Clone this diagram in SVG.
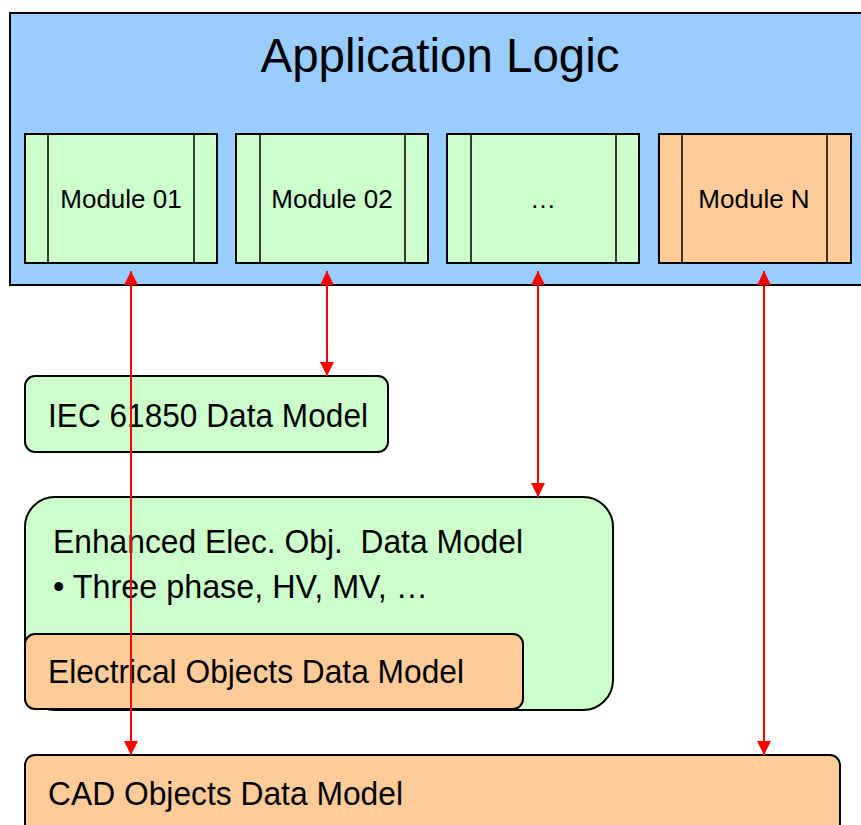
<svg xmlns="http://www.w3.org/2000/svg" width="861" height="825" viewBox="0 0 861 825">
<defs>
<style>
.t{font-family:"Liberation Sans",Arial,sans-serif;fill:#000}
.box{stroke:#000;stroke-width:2}
.mod{stroke:#000;stroke-width:2}
.div{stroke:#000;stroke-width:1.5}
.green{fill:#CCFFCC}
.orange{fill:#FFCC99}
.blue{fill:#99CCFF}
.conn{stroke:#FF0000;stroke-width:2;fill:none;marker-start:url(#ah);marker-end:url(#ah)}
</style>
<marker id="ah" markerUnits="userSpaceOnUse" markerWidth="14" markerHeight="14" refX="14" refY="7" orient="auto-start-reverse" viewBox="0 0 14 14">
<path d="M0,0 L14,7 L0,14 z" fill="#FF0000"/>
</marker>
</defs>
<rect width="861" height="825" fill="#fff"/>
<g id="app-logic">
<rect class="box blue" x="10" y="13" width="870" height="272"/>
<text class="t" x="440" y="72" font-size="48" text-anchor="middle" textLength="359" lengthAdjust="spacingAndGlyphs">Application Logic</text>
</g>
<g id="module-01">
<rect class="mod green" x="25" y="134" width="192" height="129"/>
<line class="div" x1="48" y1="134" x2="48" y2="263"/>
<line class="div" x1="194" y1="134" x2="194" y2="263"/>
<text class="t" x="121" y="208" font-size="26" text-anchor="middle">Module 01</text>
</g>
<g id="module-02">
<rect class="mod green" x="236" y="134" width="192" height="129"/>
<line class="div" x1="260" y1="134" x2="260" y2="263"/>
<line class="div" x1="405" y1="134" x2="405" y2="263"/>
<text class="t" x="332" y="208" font-size="26" text-anchor="middle">Module 02</text>
</g>
<g id="module-dots">
<rect class="mod green" x="447" y="134" width="192" height="129"/>
<line class="div" x1="471" y1="134" x2="471" y2="263"/>
<line class="div" x1="616" y1="134" x2="616" y2="263"/>
<text class="t" x="543" y="208" font-size="26" text-anchor="middle">…</text>
</g>
<g id="module-n">
<rect class="mod orange" x="659" y="134" width="192" height="129"/>
<line class="div" x1="682" y1="134" x2="682" y2="263"/>
<line class="div" x1="827" y1="134" x2="827" y2="263"/>
<text class="t" x="754" y="208" font-size="26" text-anchor="middle">Module N</text>
</g>
<g id="iec-61850">
<rect class="box green" x="25" y="376" width="363" height="76" rx="10" ry="10"/>
<text class="t" x="48" y="427" font-size="33" textLength="320" lengthAdjust="spacingAndGlyphs">IEC 61850 Data Model</text>
</g>
<g id="enhanced">
<rect class="box green" x="25" y="497" width="588" height="213" rx="30" ry="30"/>
<text class="t" x="53" y="553" font-size="33" textLength="470" lengthAdjust="spacingAndGlyphs">Enhanced Elec. Obj.&#160; Data Model</text>
<text class="t" x="53" y="598" font-size="33" textLength="375" lengthAdjust="spacingAndGlyphs">• Three phase, HV, MV, …</text>
</g>
<g id="electrical">
<rect class="box orange" x="25" y="634" width="498" height="75" rx="10" ry="10"/>
<text class="t" x="48" y="683" font-size="33" textLength="416" lengthAdjust="spacingAndGlyphs">Electrical Objects Data Model</text>
</g>
<g id="cad">
<rect class="box orange" x="25" y="755" width="815" height="90" rx="10" ry="10"/>
<text class="t" x="48" y="805" font-size="33" textLength="355" lengthAdjust="spacingAndGlyphs">CAD Objects Data Model</text>
</g>
<g id="connectors">
<line class="conn" x1="131" y1="271" x2="131" y2="755"/>
<line class="conn" x1="327" y1="271" x2="327" y2="376"/>
<line class="conn" x1="538" y1="271" x2="538" y2="497"/>
<line class="conn" x1="764" y1="271" x2="764" y2="755"/>
</g>
</svg>
